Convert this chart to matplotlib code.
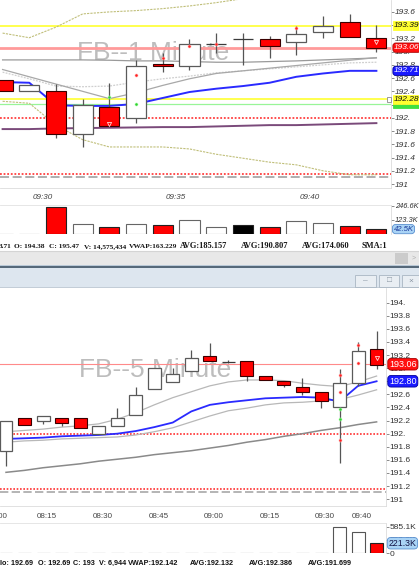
import numpy as np
import matplotlib
matplotlib.use('Agg')
import matplotlib.pyplot as plt
from matplotlib.patches import Rectangle
from matplotlib.transforms import blended_transform_factory as btf

# ---------------- 1-minute panel data ----------------
m1_times = ['09:28', '09:29', '09:30', '09:31', '09:32', '09:33', '09:34', '09:35',
            '09:36', '09:37', '09:38', '09:39', '09:40', '09:41', '09:42']
m1_open = [192.57, 192.41, 192.41, 191.75, 192.16, 191.99, 192.81, 192.78,
           193.11, 193.19, 193.19, 193.14, 193.29, 193.45, 193.21]
m1_high = [192.57, 192.50, 192.51, 192.28, 192.53, 192.88, 192.98, 193.19,
           193.28, 193.28, 193.24, 193.39, 193.54, 193.57, 193.40]
m1_low = [192.40, 192.41, 191.70, 191.56, 191.87, 191.92, 192.69, 192.72,
          192.98, 192.80, 192.90, 192.95, 193.20, 193.22, 193.00]
m1_close = [192.40, 192.50, 191.75, 192.20, 191.87, 192.79, 192.78, 193.11,
            193.11, 193.19, 193.09, 193.27, 193.38, 193.22, 193.05]
m1_volume_k = [3, 3, 232, 87, 64, 87, 81, 119, 64, 76, 61, 110, 99, 70, 42.5]
m1_vol_colors = ['w', 'w', 'r', 'w', 'r', 'w', 'r', 'w', 'w', 'k', 'r', 'w', 'w', 'r', 'r']
m1_vwap = [192.54, 192.53, 192.19, 192.18, 192.18, 192.21, 192.30, 192.39,
           192.44, 192.48, 192.53, 192.62, 192.67, 192.71, 192.71]
m1_avg_a = [192.875, 192.875, 192.875, 192.875, 192.87, 192.86, 192.86, 192.85,
            192.84, 192.84, 192.85, 192.86, 192.875, 192.89, 192.905]
m1_avg_b = [192.73, 192.62, 192.51, 192.40, 192.29, 192.38, 192.49, 192.59,
            192.67, 192.71, 192.75, 192.79, 192.83, 192.87, 192.91]
m1_avg_c = [192.69, 192.59, 192.48, 192.47, 192.48, 192.54, 192.59, 192.63,
            192.68, 192.71, 192.74, 192.77, 192.80, 192.83, 192.84]
m1_sma = [191.83, 191.83, 191.84, 191.845, 191.85, 191.855, 191.86, 191.86,
          191.87, 191.88, 191.89, 191.89, 191.90, 191.91, 191.92]
m1_band_up = [193.28, 193.21, 193.37, 193.57, 193.60, 193.62, 193.65, 193.69,
              193.74, 193.80, 193.84, 193.87, 193.90, 193.92, 193.93]
m1_band_dn = [192.25, 192.22, 191.89, 191.67, 191.56, 191.56, 191.56, 191.53,
              191.45, 191.39, 191.33, 191.29, 191.20, 191.14, 191.14]
m1_tick_times = ['09:30', '09:35', '09:40']
m1_red_marks = [('09:33', 192.65), ('09:34', 192.90), ('09:35', 193.08), ('09:36', 193.11), ('09:39', 193.35)]
m1_green_marks = [('09:32', 192.32), ('09:33', 192.21)]
m1_tri_marks = [('09:32', 191.91), ('09:42', 193.15)]
m1_yellow_hi, m1_red_level, m1_yellow_lo, m1_green_level = 193.39, 193.06, 192.28, 192.21
m1_red_dots = [192.00, 191.15]
m1_gray_dash = 191.10
m1_price_ticks = [191.0, 191.2, 191.4, 191.6, 191.8, 192.0, 192.2, 192.4, 192.6, 192.8,
                  193.0, 193.2, 193.4, 193.6]
m1_price_labels = ['191', '191.2', '191.4', '191.6', '191.8', '192.', '192.2', '192.4',
                   '192.6', '192.8', '193.', '193.2', '193.4', '193.6']
m1_vol_ticks_k = [123.3, 246.6]
m1_vol_labels = ['123.3K', '246.6K']

# ---------------- 5-minute panel data ----------------
m5_times = ['08:00', '08:05', '08:10', '08:15', '08:20', '08:25', '08:30', '08:35', '08:40',
            '08:45', '08:50', '08:55', '09:00', '09:05', '09:10', '09:15', '09:20', '09:25',
            '09:30', '09:35', '09:40']
m5_open = [191.74, 192.24, 192.19, 192.24, 192.24, 191.99, 192.12, 192.29, 192.68, 192.79, 192.96,
           193.18, 193.10, 193.11, 192.88, 192.80, 192.72, 192.63, 192.40, 192.78, 193.29]
m5_high = [192.19, 192.24, 192.27, 192.24, 192.24, 192.12, 192.39, 192.72, 193.00, 193.00, 193.28,
           193.38, 193.13, 193.11, 192.88, 192.80, 192.85, 192.63, 192.98, 193.40, 193.56]
m5_low = [191.51, 192.13, 192.15, 192.11, 192.09, 191.99, 192.12, 192.29, 192.68, 192.79, 192.96,
          193.11, 193.08, 192.80, 192.82, 192.72, 192.59, 192.39, 191.56, 192.73, 192.98]
m5_close = [192.19, 192.13, 192.27, 192.16, 192.09, 192.11, 192.24, 192.59, 193.00, 192.91, 193.15,
            193.11, 193.10, 192.88, 192.82, 192.75, 192.63, 192.50, 192.78, 193.26, 193.05]
m5_volume_k = [4, 3, 3, 2, 3, 3, 2, 3, 4, 2, 3, 2, 4, 5, 3, 2, 4, 3, 572, 475, 221.3]
m5_vol_colors = ['w'] * 20 + ['r']
m5_vwap = [191.92, 191.93, 191.94, 191.96, 191.97, 191.98, 192.00, 192.04, 192.10, 192.17, 192.34,
           192.44, 192.48, 192.51, 192.54, 192.55, 192.56, 192.55, 192.49, 192.73, 192.80]
m5_avg_up = [192.03, 192.05, 192.07, 192.10, 192.12, 192.15, 192.22, 192.32, 192.44, 192.55, 192.64,
             192.73, 192.79, 192.82, 192.82, 192.81, 192.77, 192.74, 192.72, 192.79, 192.88]
m5_avg_dn = [191.87, 191.89, 191.90, 191.92, 191.93, 191.94, 191.95, 191.98, 192.03, 192.09, 192.18,
             192.27, 192.35, 192.39, 192.44, 192.47, 192.48, 192.50, 192.52, 192.59, 192.67]
m5_sma = [191.41, 191.44, 191.48, 191.51, 191.54, 191.58, 191.61, 191.64, 191.68, 191.71, 191.74,
          191.78, 191.82, 191.87, 191.91, 191.96, 192.00, 192.05, 192.09, 192.14, 192.18]
m5_tick_times = ['08:00', '08:15', '08:30', '08:45', '09:00', '09:15', '09:30', '09:40']
m5_red_marks = [('09:30', 192.90), ('09:30', 192.64), ('09:30', 191.91), ('09:35', 193.35), ('09:35', 193.08)]
m5_green_marks = [('09:30', 192.37), ('09:30', 192.22)]
m5_tri_marks = [('09:40', 193.16)]
m5_red_level = 193.06
m5_red_dots = [192.00, 191.15]
m5_gray_dash = 191.11
m5_price_ticks = [191.0, 191.2, 191.4, 191.6, 191.8, 192.0, 192.2, 192.4, 192.6, 192.8,
                  193.0, 193.2, 193.4, 193.6, 193.8, 194.0]
m5_price_labels = ['191', '191.2', '191.4', '191.6', '191.8', '192.', '192.2', '192.4', '192.6',
                   '192.8', '193.', '193.2', '193.4', '193.6', '193.8', '194.']
m5_vol_ticks_k = [0, 292.6, 585.1]
m5_vol_labels = ['0', '292.6K', '585.1K']

# status lines
top_info = ['3.71', 'O: 194.38', 'C: 195.47', 'V: 14,575,434', 'VWAP:163.229',
            'AVG:185.157', 'AVG:190.807', 'AVG:174.060', 'SMA:1']
bot_info = ['lo: 192.69', 'O: 192.69', 'C: 193', 'V: 6,944', 'VWAP:192.142',
            'AVG:192.132', 'AVG:192.386', 'AVG:191.699']
# layout of the status-line segments: (x pixel, anchor, font size)
top_info_px = [(11, 'right', 5.3), (14, 'left', 5.3), (49, 'left', 5.3), (84, 'left', 5.3),
               (129, 'left', 5.3), (180, 'left', 6.0), (241, 'left', 6.0), (302, 'left', 6.0),
               (362, 'left', 6.0)]
bot_info_px = [0, 38, 73, 99, 128, 190, 249, 308]

# ---------------- figure ----------------
W, H = 419, 566
fig = plt.figure(figsize=(W / 100, H / 100), dpi=100)
fig.patch.set_facecolor('white')
SANS = ['Liberation Sans', 'DejaVu Sans']
SERIF = ['Liberation Serif', 'DejaVu Serif']


def rect(x0, y0, x1, y1):
    return [x0 / W, 1 - y1 / H, (x1 - x0) / W, (y1 - y0) / H]


bg = fig.add_axes([0, 0, 1, 1], zorder=0)
bg.set_xlim(0, W)
bg.set_ylim(H, 0)
bg.axis('off')

# scrollbar, separator, title bar
bg.add_patch(Rectangle((0, 251), W, 14, fc='#e8e8e8', ec='none'))
bg.plot([0, W], [251, 251], color='#d4d4d4', lw=0.8)
bg.add_patch(Rectangle((395, 253), 13, 11, fc='#cbcbcb', ec='none'))
bg.text(414, 258.5, '>', fontsize=5, color='#b0b0b0', ha='center', va='center', family=SANS)
bg.add_patch(Rectangle((0, 264.5), W, 1.5, fc='#b9c8d6', ec='none'))
bg.add_patch(Rectangle((0, 266), W, 2, fc='#56697a', ec='none'))
bg.add_patch(Rectangle((0, 268), W, 19.5, fc='#dde6ef', ec='none'))
bg.add_patch(Rectangle((0, 287), W, 1, fc='#c3cdd7', ec='none'))
for bx0, bx1, glyph in [(355, 376, '–'), (379, 399, '□'), (402, 419, '×')]:
    bg.add_patch(Rectangle((bx0, 275), bx1 - bx0, 12, fc='#e9eef3', ec='#a9b6c3', lw=0.6))
    bg.text((bx0 + bx1) / 2, 281, glyph, fontsize=6, color='#8a96a3', ha='center', va='center',
            family=SANS)

for txt, (x, ha, fs) in zip(top_info, top_info_px):
    bg.text(x, 248.5, txt, fontsize=fs, fontweight='bold', family=SERIF, color='#151515',
            ha=ha, va='baseline')
for txt, x in zip(bot_info, bot_info_px):
    bg.text(x, 565.3, txt, fontsize=5.2, fontweight='bold', family=SANS,
            color='#111111', ha='left', va='baseline')


def style_axis(ax, italic, right_color, labelsize=6):
    for s in ['top', 'left']:
        ax.spines[s].set_visible(False)
    ax.spines['right'].set_color(right_color)
    ax.spines['right'].set_linewidth(0.6)
    ax.spines['bottom'].set_color('#dcdcdc')
    ax.spines['bottom'].set_linewidth(0.6)
    ax.yaxis.tick_right()
    ax.tick_params(axis='y', length=1.8, width=0.6, color='#777777', pad=0.8, labelsize=labelsize,
                   labelcolor='#333333')
    ax.tick_params(axis='x', length=0, labelbottom=False)
    for lab in ax.get_yticklabels():
        lab.set_fontstyle('italic' if italic else 'normal')
        lab.set_family(SANS)


def candles(ax, o, h, l, c, width):
    o, h, l, c = map(np.asarray, (o, h, l, c))
    x = np.arange(len(o))
    ax.vlines(x, l, h, color='#555555', lw=0.9, zorder=4)
    up, dn, eq = c > o, c < o, c == o
    ax.bar(x[up], (c - o)[up], width, bottom=o[up], color='white', edgecolor='#5a5a5a',
           lw=0.9, zorder=5)
    ax.bar(x[dn], (o - c)[dn], width, bottom=c[dn], color='#ff0000', edgecolor='#3a0000',
           lw=0.8, zorder=5)
    ax.hlines(o[eq], x[eq] - width / 2, x[eq] + width / 2, color='#3a3a3a', lw=0.9, zorder=5)


def marks(ax, times, red, green, tri):
    pos = {t: i for i, t in enumerate(times)}
    if red:
        ax.plot([pos[t] for t, _ in red], [v for _, v in red], 'o', ms=2.2, mfc='#ff2020',
                mec='#ffb0b0', mew=0.4, zorder=7, ls='none')
    if green:
        ax.plot([pos[t] for t, _ in green], [v for _, v in green], 'o', ms=2.2, mfc='#30d030',
                mec='#b0ffb0', mew=0.4, zorder=7, ls='none')
    if tri:
        ax.plot([pos[t] for t, _ in tri], [v for _, v in tri], 'v', ms=3, mfc='none',
                mec='#ffd8d8', mew=0.6, zorder=7, ls='none')


def callout(ax, val, txt, fc, tc, italic, ec=None, style='square,pad=0.12', fs=6, dx=2.2):
    ax.annotate(txt, xy=(1, val), xycoords=('axes fraction', 'data'), xytext=(dx, 0),
                textcoords='offset points', ha='left', va='center', fontsize=fs, color=tc,
                fontstyle='italic' if italic else 'normal', family=SANS,
                bbox=dict(boxstyle=style, fc=fc, ec=ec or fc, lw=0.6),
                annotation_clip=False, zorder=10)


# ---------------- 1-minute price ----------------
ax1 = fig.add_axes(rect(0, 0, 391, 188), zorder=1)
x1 = np.arange(len(m1_times))
ax1.set_xlim(-0.097, 14.547)
ax1.set_ylim(190.94, 193.78)
ax1.text(77 / 391, 1 - 60 / 188, 'FB--1 Minute', transform=ax1.transAxes, fontsize=19,
         color='#bdbdbd', family=SANS, ha='left', va='baseline', zorder=0.5)
ax1.axhline(m1_yellow_hi, color='#ffff40', lw=1.3, zorder=1)
ax1.axhline(m1_red_level, color='#ff9a9a', lw=2.0, zorder=1)
ax1.axhline(m1_yellow_lo, color='#ffff40', lw=1.3, zorder=1)
ax1.axhline(m1_green_level, color='#98f598', lw=0.9, zorder=1)
for v in m1_red_dots:
    ax1.axhline(v, color='#ff4040', lw=1.3, ls=(0, (1, 1)), zorder=1)
ax1.axhline(m1_gray_dash, color='#a8a8a8', lw=1.3, ls=(0, (5, 2)), zorder=1)
ax1.plot(x1, m1_band_up, color='#c0bf7a', lw=0.8, ls=(0, (2, 1)), zorder=2)
ax1.plot(x1, m1_band_dn, color='#c0bf7a', lw=0.8, ls=(0, (2, 1)), zorder=2)
ax1.plot(x1, m1_avg_c, color='#cfcfcf', lw=0.9, ls=(0, (1.5, 1)), zorder=2)
ax1.plot(x1, m1_avg_a, color='#9a9a9a', lw=0.9, zorder=2)
ax1.plot(x1, m1_avg_b, color='#a8a8a8', lw=0.9, zorder=2)
ax1.plot(x1, m1_sma, color='#7a4a7a', lw=1.4, zorder=2)
ax1.plot(x1, m1_vwap, color='#2a2aff', lw=1.4, zorder=3)
candles(ax1, m1_open, m1_high, m1_low, m1_close, 0.75)
marks(ax1, m1_times, m1_red_marks, m1_green_marks, m1_tri_marks)
ax1.set_yticks(m1_price_ticks)
ax1.set_yticklabels(m1_price_labels)
style_axis(ax1, True, '#dcdcdc')
tr1 = btf(ax1.transData, ax1.transAxes)
for t in m1_tick_times:
    ax1.text(m1_times.index(t) - 0.5, -0.048, t, transform=tr1, ha='center', va='center',
             fontsize=5.8, fontstyle='italic', color='#444444', family=SANS)
callout(ax1, m1_yellow_hi, '193.39', '#ffff30', '#111111', True)
callout(ax1, m1_green_level, '192.21', '#40e040', '#114411', True)
callout(ax1, m1_yellow_lo, '192.28', '#ffff30', '#111111', True)
callout(ax1, m1_red_level, '193.06', '#ff1010', 'white', True, ec='#aa0000',
        style='round,pad=0.14,rounding_size=0.35')
callout(ax1, m1_vwap[-1], '192.71', '#1a1aff', 'white', True, ec='#000099',
        style='round,pad=0.14,rounding_size=0.35')
ax1.add_patch(Rectangle((0.989, m1_yellow_lo - 0.036), 0.011, 0.075, transform=btf(ax1.transAxes, ax1.transData),
                        fc='white', ec='#8a8a8a', lw=0.6, clip_on=False, zorder=9))

# ---------------- 1-minute volume ----------------
ax1v = fig.add_axes(rect(0, 205, 391, 234), zorder=1)
ax1v.set_xlim(-0.097, 14.547)
ax1v.set_ylim(0, 252.6)
vc = {'w': 'white', 'r': '#ff0000', 'k': '#000000'}
ax1v.bar(x1, m1_volume_k, 0.75, color=[vc[c] for c in m1_vol_colors],
         edgecolor=['#666666' if c == 'w' else '#222222' for c in m1_vol_colors], lw=0.8)
ax1v.set_yticks(m1_vol_ticks_k)
ax1v.set_yticklabels(m1_vol_labels)
style_axis(ax1v, True, '#dcdcdc', labelsize=5.4)
ax1v.spines['top'].set_visible(True)
ax1v.spines['top'].set_color('#e2e2e2')
ax1v.spines['top'].set_linewidth(0.6)
ax1v.spines['bottom'].set_visible(False)
callout(ax1v, m1_volume_k[-1], '42.5K', '#a9d3f5', '#1a3a9a', True, ec='#5a90d0',
        style='round,pad=0.14,rounding_size=0.4', fs=5.6, dx=1.8)

# ---------------- 5-minute price ----------------
ax2 = fig.add_axes(rect(0, 288, 386, 506), zorder=1)
x5 = np.arange(len(m5_times))
ax2.set_xlim(-0.324, 20.507)
ax2.set_ylim(190.896, 194.224)
ax2.text(79 / 386, 1 - (377 - 288) / 218, 'FB--5 Minute', transform=ax2.transAxes, fontsize=19,
         color='#bdbdbd', family=SANS, ha='left', va='baseline', zorder=0.5)
ax2.axhline(m5_red_level, color='#ff8a8a', lw=0.8, zorder=1)
for v in m5_red_dots:
    ax2.axhline(v, color='#ff3030', lw=1.2, ls=(0, (1, 1)), zorder=1)
ax2.axhline(m5_gray_dash, color='#a8a8a8', lw=1.2, ls=(0, (5, 2)), zorder=1)
ax2.plot(x5, m5_avg_up, color='#b8b8b8', lw=0.9, zorder=2)
ax2.plot(x5, m5_avg_dn, color='#b8b8b8', lw=0.9, zorder=2)
ax2.plot(x5, m5_sma, color='#8a8a8a', lw=1.1, zorder=2)
ax2.plot(x5, m5_vwap, color='#2a2aff', lw=1.3, zorder=3)
candles(ax2, m5_open, m5_high, m5_low, m5_close, 0.70)
marks(ax2, m5_times, m5_red_marks, m5_green_marks, m5_tri_marks)
ax2.set_yticks(m5_price_ticks)
ax2.set_yticklabels(m5_price_labels)
style_axis(ax2, False, '#dcdcdc')
tr2 = btf(ax2.transData, ax2.transAxes)
for t in m5_tick_times:
    if t == m5_times[0]:
        ax2.text(8 / 386, -0.049, t, transform=ax2.transAxes, ha='right', va='center',
                 fontsize=5.8, color='#444444', family=SANS)
    else:
        ax2.text(m5_times.index(t) - 0.78, -0.049, t, transform=tr2, ha='center', va='center',
                 fontsize=5.8, color='#444444', family=SANS)
callout(ax2, m5_red_level, '193.06', '#ff1010', 'white', False, ec='#aa0000',
        style='round,pad=0.14,rounding_size=0.35', fs=6.5)
callout(ax2, m5_vwap[-1], '192.80', '#1a1aff', 'white', False, ec='#000099',
        style='round,pad=0.14,rounding_size=0.35', fs=6.5)

# ---------------- 5-minute volume ----------------
ax2v = fig.add_axes(rect(0, 523, 386, 553.3), zorder=1)
ax2v.set_xlim(-0.324, 20.507)
ax2v.set_ylim(0, 666.5)
ax2v.bar(x5, m5_volume_k, 0.70, color=[vc[c] for c in m5_vol_colors],
         edgecolor=['#555555' if c == 'w' else '#222222' for c in m5_vol_colors], lw=0.8)
ax2v.set_yticks(m5_vol_ticks_k)
ax2v.set_yticklabels(m5_vol_labels)
style_axis(ax2v, False, '#dcdcdc')
ax2v.spines['top'].set_visible(True)
ax2v.spines['top'].set_color('#e2e2e2')
ax2v.spines['top'].set_linewidth(0.6)
ax2v.spines['bottom'].set_visible(False)
callout(ax2v, m5_volume_k[-1], '221.3K', '#a9d3f5', '#111144', False, ec='#5a90d0',
        style='round,pad=0.14,rounding_size=0.4', fs=6.3, dx=1.8)

fig.savefig('out.png', dpi=100, facecolor='white')
